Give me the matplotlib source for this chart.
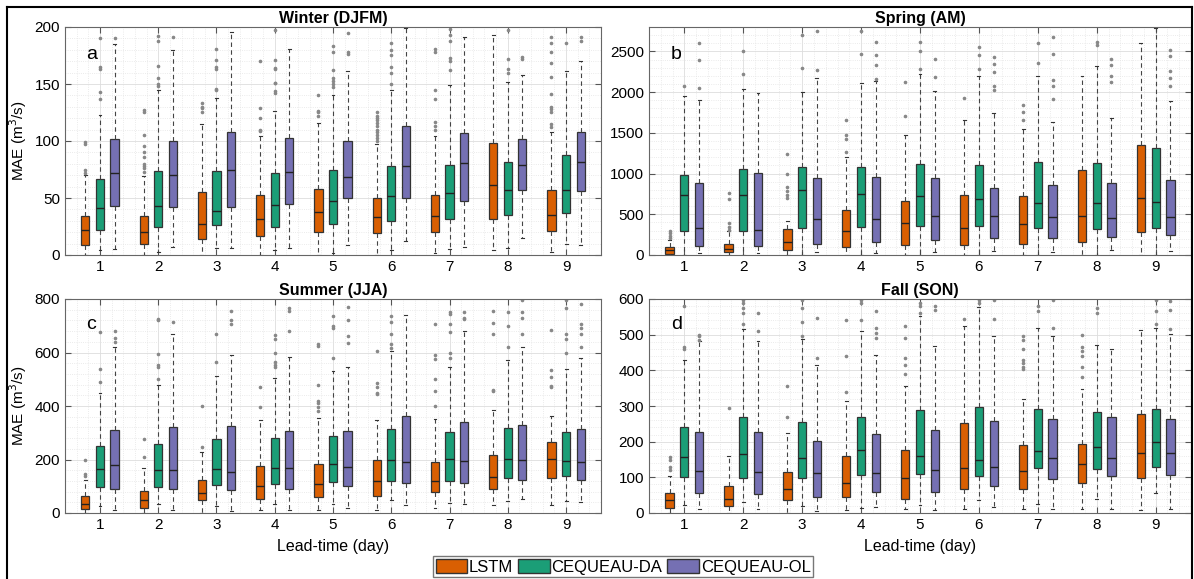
import matplotlib
matplotlib.use('Agg')
import matplotlib.pyplot as plt
from matplotlib.patches import Patch
from matplotlib.lines import Line2D
from matplotlib.ticker import MultipleLocator

plt.rcParams['font.family'] = ['Liberation Sans', 'DejaVu Sans']

lead = [1, 2, 3, 4, 5, 6, 7, 8, 9]
models = ['LSTM', 'CEQUEAU-DA', 'CEQUEAU-OL']
colors = ['#D95F02', '#1B9E77', '#7570B3']

# each row: [whisker low, q1, median, q3, whisker high] for lead-time 1..9
winter_lstm = [[0, 9, 22, 34, 70], [0, 10, 20, 34, 69], [0, 14, 27, 55, 115], [0, 17, 32, 53, 104], [0, 20, 38, 58, 116],
               [0, 19, 33, 50, 97], [2, 20, 34, 53, 104], [4, 32, 61, 98, 193], [3, 21, 35, 57, 108]]
winter_lstm_fl = [[72, 75, 97, 99], [73, 76, 78, 80, 86, 90, 96, 105, 125, 127], [125, 129, 130, 133], [109, 110, 120, 129, 170],
                  [122, 125, 126, 140], [100, 103, 105, 108, 110, 113, 116, 118, 120, 122, 125], [110, 113, 117, 137, 145, 178, 181],
                  [], [112, 115, 125, 128, 130, 141, 156, 168, 178, 186, 191]]
winter_da = [[4, 22, 41, 67, 123], [3, 25, 43, 74, 145], [6, 26, 39, 74, 138], [4, 25, 44, 72, 126], [2, 27, 47, 75, 140],
             [4, 30, 52, 78, 145], [5, 32, 54, 79, 149], [6, 35, 57, 82, 152], [10, 37, 57, 88, 161]]
winter_da_fl = [[137, 143, 163, 165, 190], [148, 150, 155, 166, 188, 192], [145, 146, 163, 165, 171, 181],
                [142, 144, 151, 151, 163, 164, 171, 197], [147, 150, 153, 155, 162, 178, 183], [150, 160, 165, 175, 180, 186],
                [162, 170, 173, 188, 193, 198], [160, 163, 172, 197], [186]]
winter_ol = [[5, 43, 72, 102, 185], [7, 42, 70, 100, 180], [6, 42, 75, 108, 196], [6, 45, 73, 103, 181], [9, 50, 68, 100, 161],
             [12, 50, 78, 113, 199], [7, 47, 81, 107, 191], [15, 57, 79, 102, 158], [9, 56, 82, 108, 170]]
winter_ol_fl = [[190], [191], [], [], [176, 178, 195], [], [], [172, 174], [188, 191]]

spring_lstm = [[0, 12, 61, 94, 180], [0, 33, 70, 139, 290], [0, 57, 156, 320, 420], [0, 98, 299, 549, 1209], [0, 119, 389, 664, 1475],
               [0, 123, 336, 738, 1652], [0, 139, 377, 721, 1545], [0, 164, 475, 1041, 2200], [0, 279, 701, 1348, 2602]]
spring_lstm_fl = [[205, 230, 265, 295], [310, 350, 390, 690, 760], [700, 740, 780, 830, 1000, 1240], [1270, 1420, 1470, 1660],
                  [1710, 2120], [1930], [1660, 1760, 1840], [], []]
spring_da = [[0, 295, 742, 983, 1947], [0, 295, 738, 1053, 2037], [0, 328, 795, 1082, 1996], [0, 344, 750, 1086, 2110],
             [0, 361, 725, 1123, 2225], [0, 357, 684, 1102, 2201], [0, 336, 643, 1139, 2201], [0, 320, 639, 1135, 2324],
             [0, 336, 647, 1320, 2787]]
spring_da_fl = [[2070], [2220, 2510], [2300, 2700], [2470, 2750], [2280, 2510, 2620], [2290, 2460, 2550], [2360, 2600],
                [2580, 2620], []]
spring_ol = [[20, 107, 336, 885, 1905], [29, 115, 311, 1008, 1988], [37, 131, 443, 951, 2172], [20, 164, 447, 959, 2131],
             [41, 189, 484, 947, 2016], [53, 213, 479, 828, 1750], [41, 213, 463, 856, 1639], [61, 225, 455, 881, 1680],
             [53, 242, 467, 922, 1893]]
spring_ol_fl = [[2050, 2400, 2600], [], [2270, 2750], [2160, 2330, 2460, 2620], [2190, 2410], [2030, 2080, 2250, 2350, 2430],
                [1910, 2080, 2150, 2470, 2680], [2130, 2200, 2330, 2410], [2070, 2170, 2260, 2440, 2520]]

summer_lstm = [[0, 15, 35, 64, 125], [0, 19, 50, 81, 169], [0, 48, 74, 125, 229], [12, 54, 101, 175, 346], [11, 59, 108, 185, 354],
               [12, 63, 120, 199, 346], [19, 79, 119, 189, 352], [30, 90, 135, 215, 385], [30, 129, 203, 266, 362]]
summer_lstm_fl = [[140, 145, 200], [210, 275], [245, 400], [395, 470], [380, 395, 410, 420, 480, 625, 630],
                  [445, 450, 470, 485, 605], [400, 455, 500, 575, 590, 705], [455, 460, 670, 710, 755], [470, 475, 510, 535, 685]]
summer_da = [[25, 98, 163, 250, 447], [34, 98, 160, 259, 479], [25, 104, 165, 275, 512], [34, 110, 168, 280, 506],
             [35, 116, 184, 286, 531], [48, 120, 200, 315, 606], [38, 120, 203, 304, 547], [45, 130, 203, 319, 571],
             [45, 138, 195, 303, 540]]
summer_da_fl = [[490, 540, 675], [500, 545, 555, 595, 720, 725], [565, 670], [545, 555, 565, 600, 650, 665], [580, 690, 700, 735],
                [615, 630, 670, 715, 735], [580, 600, 675, 705, 745, 750], [620, 700, 750], [600, 650, 670, 765, 795]]
summer_ol = [[12, 88, 178, 309, 621], [10, 90, 159, 322, 669], [6, 85, 153, 324, 590], [12, 88, 168, 308, 585],
             [18, 100, 171, 308, 544], [31, 111, 191, 364, 740], [35, 111, 196, 341, 681], [54, 124, 200, 330, 622],
             [40, 125, 190, 314, 581]]
summer_ol_fl = [[640, 655, 680], [715], [705, 720, 755], [680, 755, 765], [635, 660, 720, 770], [], [725, 730, 750],
                [670, 730, 750, 795], [620, 670, 690, 705, 780]]

fall_lstm = [[0, 14, 37, 56, 105], [0, 19, 40, 75, 159], [0, 36, 66, 115, 225], [9, 44, 84, 160, 314], [11, 40, 98, 178, 356],
             [11, 66, 127, 253, 525], [11, 68, 119, 191, 321], [11, 83, 138, 194, 349], [9, 98, 167, 278, 513]]
fall_lstm_fl = [[120, 130, 150, 158], [295], [270, 355], [340, 440, 540], [390, 415, 435, 490, 525], [545],
                [405, 410, 420, 430, 460, 485, 495], [380, 410, 440, 455, 465, 500], []]
fall_da = [[22, 100, 158, 242, 428], [30, 98, 166, 269, 516], [21, 97, 155, 256, 487], [14, 107, 176, 269, 511],
           [23, 109, 159, 289, 553], [36, 103, 150, 296, 577], [26, 125, 174, 292, 520], [39, 122, 186, 284, 472],
           [56, 128, 198, 291, 520]]
fall_da_fl = [[460, 465, 580], [530, 560, 575, 590, 598], [495, 535, 575, 598], [540, 590, 598], [560, 580, 590], [590, 598],
              [565, 580], [560, 575], [530, 565, 598]]
fall_ol = [[12, 56, 119, 228, 483], [11, 53, 114, 226, 481], [5, 46, 111, 201, 414], [16, 59, 113, 222, 442],
           [8, 58, 120, 232, 469], [16, 77, 129, 257, 497], [11, 96, 155, 263, 497], [11, 103, 155, 270, 459],
           [11, 106, 169, 264, 502]]
fall_ol_fl = [[485, 495, 500], [510, 560], [435, 548], [490, 505, 520, 565], [570, 580], [545, 598], [520, 598], [],
              [515, 570, 595]]

panels = [
    ('Winter (DJFM)', 'a', [winter_lstm, winter_da, winter_ol], [winter_lstm_fl, winter_da_fl, winter_ol_fl], 200, 50, 10),
    ('Spring (AM)', 'b', [spring_lstm, spring_da, spring_ol], [spring_lstm_fl, spring_da_fl, spring_ol_fl], 2800, 500, 100),
    ('Summer (JJA)', 'c', [summer_lstm, summer_da, summer_ol], [summer_lstm_fl, summer_da_fl, summer_ol_fl], 800, 200, 40),
    ('Fall (SON)', 'd', [fall_lstm, fall_da, fall_ol], [fall_lstm_fl, fall_da_fl, fall_ol_fl], 600, 100, 20),
]

W, H = 1194, 579
fig = plt.figure(figsize=(W / 100, H / 100), dpi=100)
rects = [[65, 27, 601, 255], [649, 27, 1191, 255], [65, 299, 601, 513], [649, 299, 1191, 513]]
offs = [-0.25, 0.0, 0.25]

for n, (title, letter, series, fliers, ymax, major, minor) in enumerate(panels):
    x0, y0, x1, y1 = rects[n]
    ax = fig.add_axes([x0 / W, 1 - y1 / H, (x1 - x0) / W, (y1 - y0) / H])
    for k in range(3):
        stats = []
        for i in range(len(lead)):
            lo, q1, med, q3, hi = series[k][i]
            stats.append(dict(whislo=lo, q1=q1, med=med, q3=q3, whishi=hi, fliers=fliers[k][i]))
        ax.bxp(stats, positions=[x + offs[k] for x in lead], widths=0.14, capwidths=0.05,
               patch_artist=True, manage_ticks=False,
               boxprops=dict(facecolor=colors[k], edgecolor='#333333', linewidth=0.9),
               medianprops=dict(color='#222222', linewidth=1.0),
               whiskerprops=dict(color='#444444', linestyle=(0, (4, 3)), linewidth=0.8),
               capprops=dict(color='#333333', linewidth=0.8),
               flierprops=dict(marker='o', markersize=1.6, markerfacecolor='#888888',
                               markeredgecolor='#888888', linestyle='none'))
    ax.set_xlim(0.4, 9.6)
    ax.set_ylim(0, ymax)
    ax.set_xticks(lead)
    ax.set_yticks(range(0, ymax + 1 if ymax % major == 0 else ymax, major))
    ax.xaxis.set_minor_locator(MultipleLocator(0.2))
    ax.yaxis.set_minor_locator(MultipleLocator(minor))
    ax.grid(which='major', color='#dddddd', linewidth=0.6)
    ax.grid(which='minor', color='#e4e4e4', linestyle=':', linewidth=0.6)
    ax.set_axisbelow(True)
    ax.tick_params(which='major', direction='in', top=True, right=True, length=4, labelsize=11, color='#555555')
    ax.tick_params(which='minor', length=0)
    for s in ax.spines.values():
        s.set_color('#666666')
        s.set_linewidth(0.8)
    ax.set_title(title, fontsize=11.5, fontweight='bold', pad=3)
    ax.text(0.04, 0.86, letter, transform=ax.transAxes, fontsize=14)
    if n in (0, 2):
        ax.set_ylabel('MAE (m$^3$/s)', fontsize=11, labelpad=4)
    if n in (2, 3):
        ax.set_xlabel('Lead-time (day)', fontsize=11.5, labelpad=5)

handles = [Patch(facecolor=c, edgecolor='#333333') for c in colors]
fig.legend(handles, models, loc='upper center', bbox_to_anchor=(623 / W, 1 - 556 / H), ncol=3, fontsize=12,
           frameon=True, fancybox=False, edgecolor='#555555', handlelength=1.9, handleheight=1.0,
           handletextpad=0.1, columnspacing=0.3, borderpad=0.15, borderaxespad=0)

# outer frame of the figure
fig.add_artist(Line2D([7 / W, 7 / W], [0, 1 - 7 / H], color='black', linewidth=1.5))
fig.add_artist(Line2D([7 / W, 1192 / W], [1 - 7 / H, 1 - 7 / H], color='black', linewidth=1.5))
fig.add_artist(Line2D([1192 / W, 1192 / W], [0, 1 - 7 / H], color='black', linewidth=1.5))

plt.savefig('out.png', dpi=100)
